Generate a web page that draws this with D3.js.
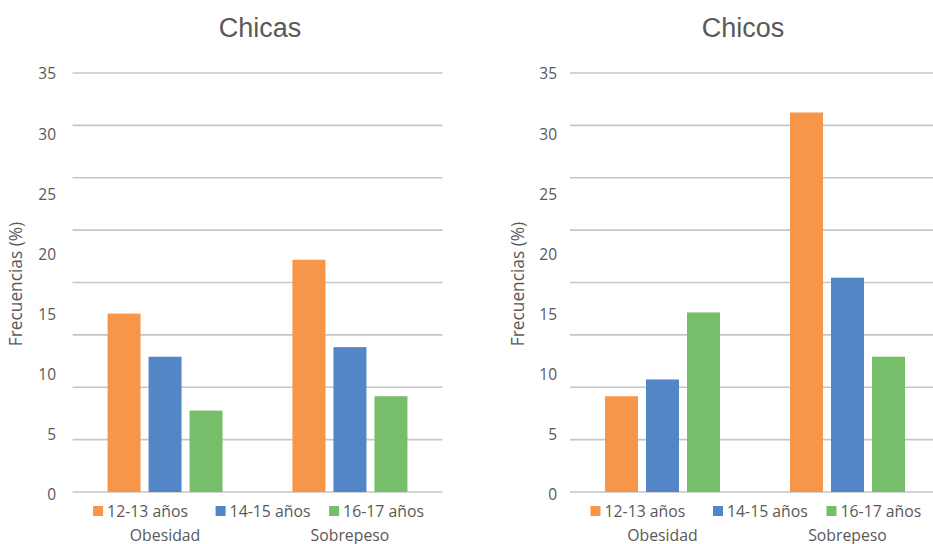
<!DOCTYPE html>
<html><head><meta charset="utf-8">
<script src="https://cdn.jsdelivr.net/npm/d3@7"></script>
<style>body{margin:0;background:#fff}svg{display:block}</style>
</head><body>
<script>
const categories = ["Obesidad", "Sobrepeso"];
const seriesNames = ["12-13 años", "14-15 años", "16-17 años"];
const colors = ["#F79548", "#5386C6", "#76BE6A"];
const chicasValues = [[14.9, 11.3, 6.8], [19.4, 12.1, 8.0]];
const chicosValues = [[8.0, 9.4, 15.0], [31.7, 17.9, 11.3]];
const tickLabels = [0, 5, 10, 15, 20, 25, 30, 35];
const titles = ["Chicas", "Chicos"];

const W = 933, H = 544;
const svg = d3.select("body").append("svg").attr("width", W).attr("height", H);

const panels = [
  {title: titles[0], values: chicasValues, x0: 72.6, x1: 442.4, titleX: 260, axisX: 56, yTitleX: 22},
  {title: titles[1], values: chicosValues, x0: 570, x1: 940, titleX: 743, axisX: 557, yTitleX: 524}
];

const y = d3.scaleLinear().domain([0, 35]).range([492, 73]);
const gridVals = d3.range(0, 9).map(i => i * 35 / 8);
const FONT = "'Open Sans', sans-serif";

panels.forEach(p => {
  const g = svg.append("g");
  const x = d3.scaleBand().domain(categories).range([p.x0, p.x1]).padding(0);
  const bw = x.bandwidth();
  const inner = d3.scaleBand().domain(seriesNames)
    .range([bw / 2 - 57.5, bw / 2 + 57.5]).paddingInner(0.195).paddingOuter(0);

  g.selectAll("line.grid").data(gridVals).enter().append("line")
    .attr("x1", p.x0).attr("x2", Math.min(p.x1, W))
    .attr("y1", d => y(d)).attr("y2", d => y(d))
    .attr("stroke", "#C6C6C6").attr("stroke-width", 1.6);

  categories.forEach((c, ci) => {
    g.selectAll(null).data(p.values[ci]).enter().append("rect")
      .attr("x", (d, si) => x(c) + inner(seriesNames[si]))
      .attr("width", inner.bandwidth())
      .attr("y", d => y(d))
      .attr("height", d => y(0) - y(d))
      .attr("fill", (d, si) => colors[si]);
  });

  const labelScale = d3.scaleLinear().domain([0, 35]).range([495, 74]);
  g.selectAll("text.tick").data(tickLabels).enter().append("text")
    .attr("x", p.axisX).attr("y", d => labelScale(d))
    .attr("dy", "0.35em").attr("text-anchor", "end")
    .attr("font-family", FONT).attr("font-size", 15.5)
    .attr("fill", "#595959").text(d => d);

  g.append("text")
    .attr("transform", `translate(${p.yTitleX},284) rotate(-90)`)
    .attr("text-anchor", "middle")
    .attr("font-family", FONT).attr("font-size", 17.3)
    .attr("fill", "#595959").text("Frecuencias (%)");

  g.append("text").attr("x", p.titleX).attr("y", 37).attr("text-anchor", "middle")
    .attr("font-family", "'Liberation Sans', Arial, sans-serif").attr("font-size", 27)
    .attr("fill", "#595959").text(p.title);

  const legendX = [p.x0 + 20.5, p.x0 + 143, p.x0 + 256.5];
  seriesNames.forEach((s, si) => {
    g.append("rect").attr("x", legendX[si]).attr("y", 506).attr("width", 10).attr("height", 10)
      .attr("fill", colors[si]);
    g.append("text").attr("x", legendX[si] + 14).attr("y", 511).attr("dy", "0.35em")
      .attr("font-family", FONT).attr("font-size", 15.8)
      .attr("fill", "#595959").text(s);
  });

  g.selectAll("text.cat").data(categories).enter().append("text")
    .attr("x", d => x(d) + bw / 2).attr("y", 541)
    .attr("text-anchor", "middle")
    .attr("font-family", FONT).attr("font-size", 15.8)
    .attr("fill", "#595959").text(d => d);
});
</script>
</body></html>
